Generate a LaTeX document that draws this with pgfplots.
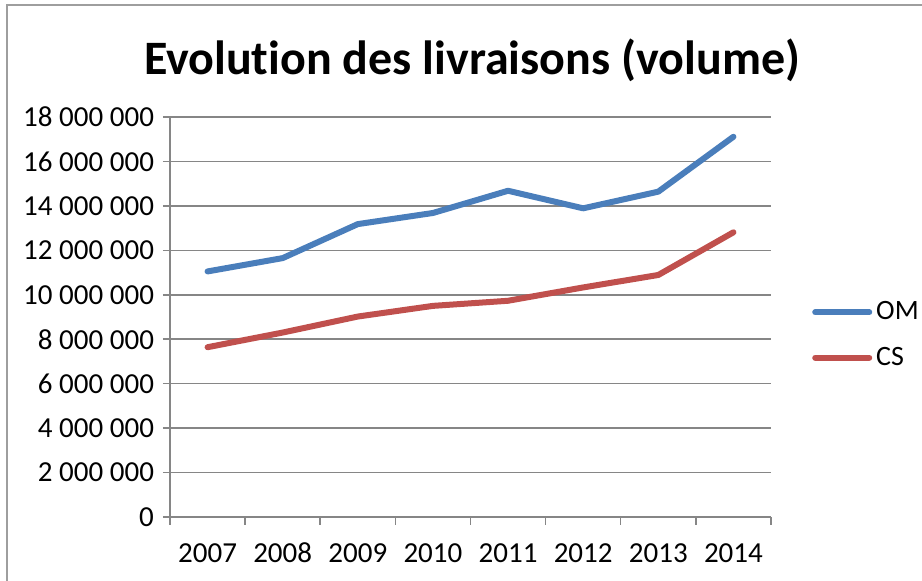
\documentclass[border=0pt]{standalone}
\usepackage{fontspec}
\setmainfont{Carlito}[Ligatures={NoCommon}]
\usepackage{pgfplots}
\pgfplotsset{compat=1.18}
\definecolor{omblue}{RGB}{74,126,187}
\definecolor{csred}{RGB}{192,80,77}
\definecolor{gridgray}{RGB}{134,134,134}

\begin{document}
\begin{tikzpicture}
\useasboundingbox (0,0) rectangle (461pt,290.5pt);
\draw[gridgray!80,line width=0.8pt] (3.5pt,0) -- (3.5pt,288pt) -- (461pt,288pt);
\node[font=\fontsize{24}{28}\selectfont\bfseries] at (236pt,260.5pt) {Evolution des livraisons (volume)};
\begin{axis}[
  at={(85pt,32pt)}, anchor=south west,
  scale only axis, width=300.5pt, height=200pt,
  xmin=-0.5, xmax=7.5, ymin=0, ymax=18000000,
  xtick={0,...,7},
  xticklabels={2007,2008,2009,2010,2011,2012,2013,2014},
  minor xtick={-0.5,0.5,...,7.5},
  ytick={0,2000000,...,18000000},
  yticklabels={0,2 000 000,4 000 000,6 000 000,8 000 000,10 000 000,12 000 000,14 000 000,16 000 000,18 000 000},
  scaled y ticks=false,
  /pgf/number format/assume math mode=true,
  axis lines*=left,
  axis line style={gridgray,line width=0.75pt},
  tick align=outside,
  major tick length=3.5pt, minor tick length=4pt,
  major x tick style={draw=none},
  minor x tick style={gridgray,line width=0.75pt},
  major y tick style={gridgray,line width=0.75pt},
  ymajorgrids, grid style={gridgray,line width=0.75pt},
  tick label style={font=\fontsize{14.5}{17}\selectfont},
  xticklabel style={yshift=-6pt, text height=9.5pt, text depth=0pt},
  yticklabel style={xshift=-1pt},
  legend style={at={(rel axis cs:1.068,0.455)}, anchor=west, draw=none, fill=none,
    font=\fontsize{14}{16}\selectfont, row sep=8pt, inner sep=0pt},
  legend cell align=left,
  legend image code/.code={\draw[#1,line cap=round] (0pt,0pt) -- (27pt,0pt);},
]
\addplot[omblue,line width=3pt,line join=round,line cap=round] coordinates
  {(0,11050000) (1,11650000) (2,13180000) (3,13680000) (4,14680000) (5,13890000) (6,14640000) (7,17110000)};
\addlegendentry{OM}
\addplot[csred,line width=3pt,line join=round,line cap=round] coordinates
  {(0,7640000) (1,8300000) (2,9020000) (3,9500000) (4,9730000) (5,10330000) (6,10890000) (7,12810000)};
\addlegendentry{CS}
\end{axis}
\end{tikzpicture}
\end{document}
